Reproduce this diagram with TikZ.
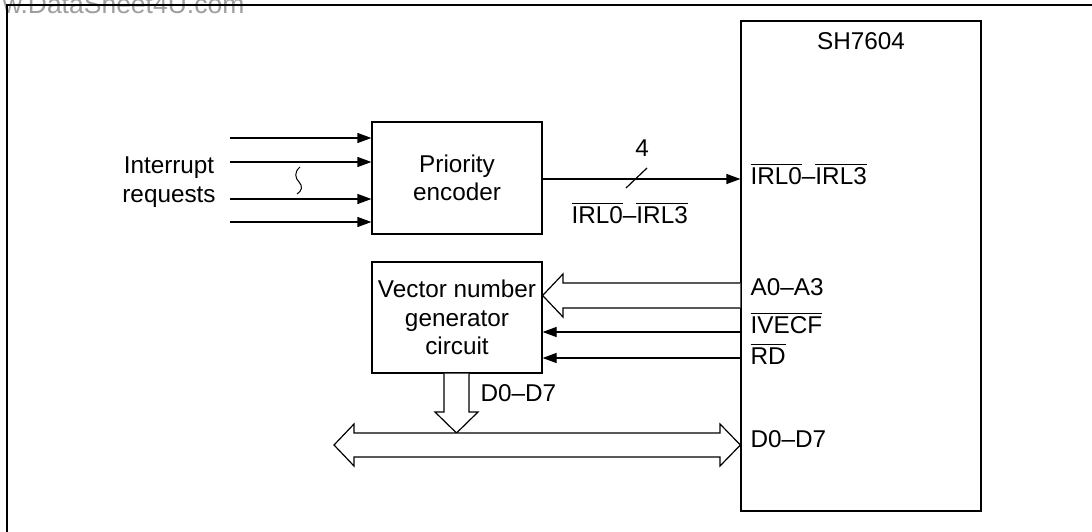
\documentclass[tikz,border=0pt]{standalone}
\usepackage{fontspec}
\setmainfont{Liberation Sans}
\usetikzlibrary{arrows.meta,calc}
\newcommand\ovl[1]{\vbox{\hrule height 1.1pt\kern 2pt\hbox{#1}}}
\begin{document}
\begin{tikzpicture}[x=1pt,y=-1pt,line width=1.2pt,
  lbl/.style={inner sep=0pt,font=\fontsize{24.3}{29}\selectfont},
  box/.style={draw,inner sep=0pt,align=center,font=\fontsize{24.3}{28.5}\selectfont},
  sig/.style={-{Triangle[length=14pt,width=10pt]}},
  hollow/.style={line width=1.2pt,fill=white,line join=miter}]
\useasboundingbox (0,0) rectangle (1092,532);
% watermark and frame
\node[lbl,font=\fontsize{26.5}{30}\selectfont,text=black!38,anchor=base east] (wm) at (245,14) {w.DataSheet4U.com};
\coordinate (fbl) at (7,532);
\coordinate (ftl) at (7,5);
\coordinate (ftr) at (1092,5);
\draw (fbl) -- (ftl) -- (ftr);
% boxes
\node[box,minimum width=170,minimum height=112] (pe) at (457,178) {Priority\\encoder};
\node[box,minimum width=170,minimum height=111] (vec) at (457,317.5) {Vector number\\generator\\circuit};
\node[draw,inner sep=0pt,minimum width=240,minimum height=490] (sh) at (861,266) {};
\node[lbl,anchor=base] (shl) at (861,50) {SH7604};
% interrupt requests
\node[lbl,align=center,anchor=base] (ir) at (169,202) {Interrupt\\requests};
\coordinate (i1) at (230,138);
\coordinate (i2) at (230,162);
\coordinate (i3) at (230,199);
\coordinate (i4) at (230,222);
\draw[sig] (i1) -- (pe.west |- i1);
\draw[sig] (i2) -- (pe.west |- i2);
\draw[sig] (i3) -- (pe.west |- i3);
\draw[sig] (i4) -- (pe.west |- i4);
\draw[line width=1pt] (300,167) .. controls (294,172) and (295,178) .. (299,182) .. controls (303,186) and (302,191) .. (297,194);
% IRL bus
\coordinate (irl) at (0,179);
\draw[sig] (pe.east |- irl) -- (sh.west |- irl);
\draw (626,188) -- (647,168);
\node[lbl,anchor=base] (n4) at (642,157) {4};
\node[lbl,anchor=base west] (irlb) at (571,223) {\ovl{IRL0}--\ovl{IRL3}};
% pin labels
\node[lbl,anchor=base west] (p1) at (750,184) {\ovl{IRL0}--\ovl{IRL3}};
\node[lbl,anchor=base west] (p2) at (750,295) {A0--A3};
\node[lbl,anchor=base west] (p3) at (750,333) {\ovl{IVECF}};
\node[lbl,anchor=base west] (p4) at (750,364) {\ovl{RD}};
\node[lbl,anchor=base west] (p5) at (750,447) {D0--D7};
% A0-A3 hollow arrow
\coordinate (a1) at (0,283);
\coordinate (a2) at (0,308);
\coordinate (am) at (0,295.5);
\draw[hollow] (sh.west |- a1) -- (563,283) -- (563,274) -- (vec.east |- am) -- (563,317) -- (563,308) -- (sh.west |- a2);
% IVECF, RD
\coordinate (iv) at (0,332);
\coordinate (rd) at (0,358);
\draw[sig] (sh.west |- iv) -- (vec.east |- iv);
\draw[sig] (sh.west |- rd) -- (vec.east |- rd);
% data bus
\draw[hollow] (vec.south -| 444,0) -- (444,412) -- (435,412) -- (456.5,433) -- (478,412) -- (469,412) -- (vec.south -| 469,0);
\node[lbl,anchor=base west] (dlab) at (480,401) {D0--D7};
\draw[hollow] (334,445) -- (354,424) -- (354,433) -- (720,433) -- (720,424) -- (sh.west |- 0,445) -- (720,466) -- (720,457) -- (354,457) -- (354,466) -- cycle;
\end{tikzpicture}
\end{document}
